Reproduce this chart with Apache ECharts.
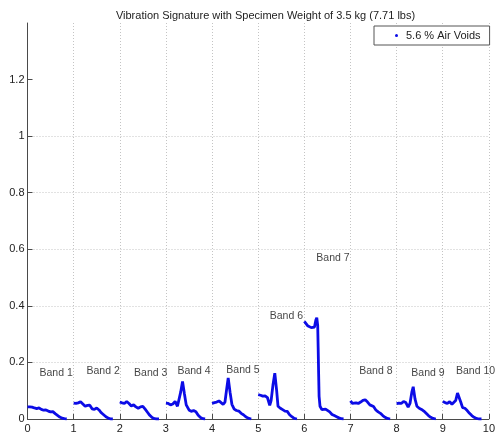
<!DOCTYPE html>
<html>
<head>
<meta charset="utf-8">
<title>Vibration Signature</title>
<script src="https://cdn.jsdelivr.net/npm/echarts@6/dist/echarts.min.js"></script>
<style>
  html, body { margin: 0; padding: 0; background: #ffffff; }
  #chart { width: 498px; height: 438px; }
</style>
</head>
<body>
<div id="chart"></div>
<script>
// Amplitude traces per frequency band, [x, amplitude]
const band1 = [[0.00,0.043],[0.05,0.043],[0.10,0.042],[0.15,0.039],[0.20,0.037],[0.25,0.039],[0.30,0.034],[0.35,0.031],[0.40,0.032],[0.45,0.028],[0.50,0.025],[0.55,0.026],[0.60,0.019],[0.65,0.013],[0.70,0.007],[0.75,0.003],[0.80,0.001],[0.85,0.000]];
const band2 = [[1.00,0.056],[1.05,0.055],[1.10,0.057],[1.15,0.061],[1.20,0.053],[1.25,0.045],[1.30,0.048],[1.35,0.049],[1.40,0.036],[1.45,0.034],[1.50,0.039],[1.55,0.032],[1.60,0.022],[1.65,0.015],[1.70,0.008],[1.75,0.003],[1.80,0.000],[1.85,0.000]];
const band3 = [[2.00,0.060],[2.05,0.057],[2.10,0.055],[2.15,0.062],[2.20,0.055],[2.25,0.046],[2.30,0.050],[2.35,0.043],[2.40,0.038],[2.45,0.043],[2.50,0.045],[2.55,0.035],[2.60,0.024],[2.65,0.013],[2.70,0.005],[2.75,0.001],[2.80,0.000],[2.85,0.000]];
const band4 = [[3.00,0.056],[3.05,0.055],[3.10,0.050],[3.15,0.053],[3.20,0.062],[3.25,0.045],[3.28,0.048],[3.32,0.095],[3.36,0.133],[3.40,0.090],[3.44,0.050],[3.50,0.032],[3.55,0.027],[3.60,0.030],[3.65,0.026],[3.70,0.013],[3.75,0.005],[3.80,0.001],[3.85,0.000]];
const band5 = [[4.00,0.055],[4.05,0.058],[4.10,0.060],[4.15,0.064],[4.19,0.068],[4.24,0.052],[4.28,0.060],[4.32,0.110],[4.35,0.145],[4.39,0.095],[4.43,0.052],[4.48,0.035],[4.53,0.030],[4.58,0.028],[4.63,0.020],[4.68,0.015],[4.73,0.008],[4.78,0.003],[4.85,0.000]];
const band6 = [[5.00,0.086],[5.05,0.084],[5.10,0.081],[5.15,0.082],[5.20,0.076],[5.25,0.048],[5.28,0.065],[5.32,0.120],[5.36,0.162],[5.40,0.100],[5.43,0.045],[5.48,0.038],[5.53,0.033],[5.58,0.028],[5.63,0.027],[5.68,0.015],[5.73,0.008],[5.78,0.002],[5.84,0.000]];
const band7 = [[6.00,0.345],[6.03,0.340],[6.07,0.330],[6.11,0.325],[6.15,0.323],[6.19,0.320],[6.22,0.325],[6.25,0.350],[6.27,0.358],[6.29,0.330],[6.30,0.250],[6.31,0.160],[6.32,0.080],[6.34,0.045],[6.38,0.033],[6.42,0.030],[6.46,0.035],[6.50,0.030],[6.55,0.025],[6.60,0.016],[6.65,0.012],[6.70,0.008],[6.75,0.004],[6.80,0.001],[6.85,0.000]];
const band8 = [[7.00,0.064],[7.04,0.055],[7.08,0.050],[7.12,0.057],[7.17,0.055],[7.22,0.060],[7.27,0.066],[7.32,0.068],[7.37,0.060],[7.42,0.050],[7.46,0.045],[7.50,0.044],[7.55,0.032],[7.60,0.025],[7.65,0.020],[7.70,0.012],[7.75,0.006],[7.80,0.002],[7.86,0.000]];
const band9 = [[8.00,0.054],[8.05,0.056],[8.10,0.055],[8.15,0.062],[8.20,0.058],[8.25,0.042],[8.29,0.055],[8.33,0.095],[8.36,0.114],[8.40,0.070],[8.44,0.045],[8.49,0.038],[8.54,0.034],[8.59,0.028],[8.64,0.020],[8.69,0.012],[8.74,0.006],[8.79,0.002],[8.85,0.000]];
const band10 = [[9.00,0.062],[9.05,0.058],[9.10,0.055],[9.15,0.061],[9.20,0.052],[9.24,0.045],[9.28,0.065],[9.32,0.092],[9.35,0.098],[9.39,0.060],[9.43,0.040],[9.48,0.038],[9.53,0.030],[9.58,0.020],[9.63,0.012],[9.68,0.006],[9.73,0.002],[9.78,0.000],[9.84,0.000]];

// Band annotations
const bandNames = ['Band 1','Band 2','Band 3','Band 4','Band 5','Band 6','Band 7','Band 8','Band 9','Band 10'];
const bandLabelX = [0.62, 1.64, 2.67, 3.61, 4.67, 5.61, 6.62, 7.55, 8.68, 9.71];
const bandLabelY = [0.162, 0.168, 0.164, 0.171, 0.172, 0.365, 0.568, 0.168, 0.162, 0.168];

// Axis ticks
const xTicks = [0, 1, 2, 3, 4, 5, 6, 7, 8, 9, 10];
const yTicks = [0, 0.2, 0.4, 0.6, 0.8, 1, 1.2];

const seriesName = '5.6 % Air Voids';
const titleText = 'Vibration Signature with Specimen Weight of 3.5 kg (7.71 lbs)';

// Join bands into one trace, broken between bands
const bands = [band1, band2, band3, band4, band5, band6, band7, band8, band9, band10];
const trace = [];
bands.forEach(function (b, i) {
  if (i > 0) trace.push([null, null]);
  b.forEach(function (p) { trace.push(p); });
});

const labelData = bandNames.map(function (n, i) {
  return { name: n, value: [bandLabelX[i], bandLabelY[i]] };
});

const FONT = "'Liberation Sans', Arial, Helvetica, sans-serif";
const AXIS_COLOR = '#4a4a4a';
const TRACE_COLOR = '#0c0ce6';

const chart = echarts.init(document.getElementById('chart'), null, { renderer: 'canvas' });
chart.setOption({
  animation: false,
  backgroundColor: '#ffffff',
  textStyle: { fontFamily: FONT },
  title: {
    text: titleText,
    left: 260.5,
    textAlign: 'center',
    top: 5,
    textStyle: { fontFamily: FONT, fontSize: 11, fontWeight: 'normal', color: '#222222' }
  },
  legend: {
    data: [seriesName],
    left: 374,
    top: 26,
    orient: 'horizontal',
    padding: [4, 9, 4, 21],
    icon: 'circle',
    itemWidth: 3,
    itemHeight: 3,
    borderColor: '#555555',
    borderWidth: 1,
    backgroundColor: '#ffffff',
    textStyle: { fontFamily: FONT, fontSize: 11, color: '#222222', padding: [0, 0, 0, 3] }
  },
  grid: { left: 27.5, right: 4.5, top: 23, bottom: 19, containLabel: false },
  xAxis: {
    type: 'value',
    min: 0,
    max: 10,
    interval: 1,
    axisLine: { show: true, onZero: false, lineStyle: { color: AXIS_COLOR, width: 1 } },
    axisTick: { show: true, inside: true, length: 5, lineStyle: { color: AXIS_COLOR }, customValues: xTicks },
    axisLabel: { show: true, margin: 4, fontSize: 11, color: '#222222', fontFamily: FONT, customValues: xTicks,
      alignMinLabel: 'center', alignMaxLabel: 'center', hideOverlap: false },
    splitLine: { show: true, showMinLine: false, showMaxLine: true, lineStyle: { color: '#c4c4c4', type: [1, 2], width: 1 } }
  },
  yAxis: {
    type: 'value',
    min: 0,
    max: 1.4,
    interval: 0.2,
    axisLine: { show: true, onZero: false, lineStyle: { color: AXIS_COLOR, width: 1 } },
    axisTick: { show: true, inside: true, length: 5, lineStyle: { color: AXIS_COLOR }, customValues: yTicks },
    axisLabel: { show: true, margin: 3, fontSize: 11, color: '#222222', fontFamily: FONT, customValues: yTicks,
      formatter: function (v) { return String(Math.round(v * 10) / 10); } },
    splitLine: { show: true, showMinLine: false, showMaxLine: false, lineStyle: { color: '#c4c4c4', type: [1, 2], width: 1 } }
  },
  series: [
    {
      name: seriesName,
      type: 'line',
      data: trace,
      connectNulls: false,
      showSymbol: false,
      symbol: 'circle',
      symbolSize: 3,
      color: TRACE_COLOR,
      lineStyle: { color: TRACE_COLOR, width: 2.8 },
      itemStyle: { color: TRACE_COLOR },
      silent: true,
      z: 3
    },
    {
      name: 'labels',
      type: 'scatter',
      data: labelData,
      symbolSize: 0,
      silent: true,
      label: {
        show: true,
        position: 'inside',
        formatter: '{b}',
        fontFamily: FONT,
        fontSize: 10.5,
        color: '#111111'
      },
      z: 4
    }
  ]
});
</script>
</body>
</html>
